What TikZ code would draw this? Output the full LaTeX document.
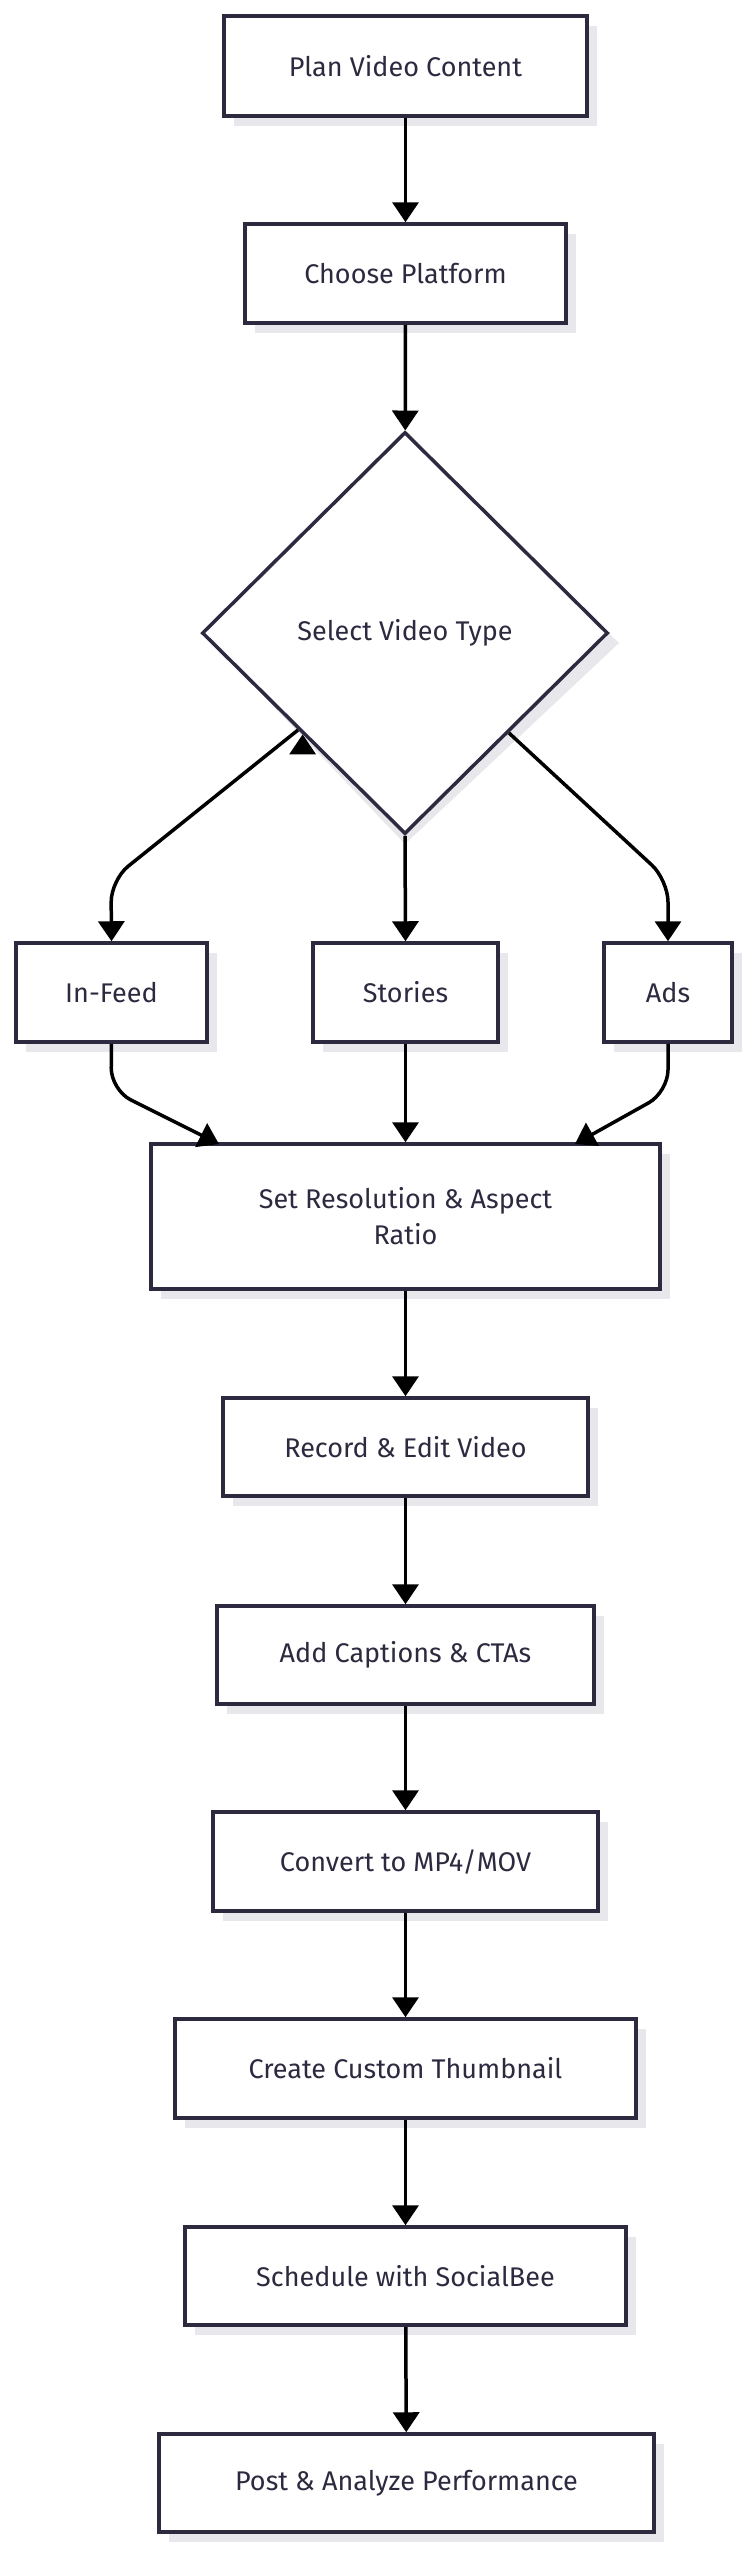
\documentclass[tikz,border=0pt]{standalone}
\usepackage{fontspec}
\setmainfont{Fira Sans}
\usetikzlibrary{shapes.geometric,arrows.meta}
\definecolor{bord}{HTML}{2D2A40}
\definecolor{txt}{HTML}{2D2A40}
\definecolor{shad}{HTML}{E8E8EC}
\begin{document}
\begin{tikzpicture}[x=1pt,y=-1pt,
  box/.style={draw=bord,line width=3.5pt,fill=white,font=\fontsize{27}{36}\selectfont,text=txt,align=center,inner sep=0pt},
  arr/.style={line width=3.5pt,black,-{Triangle[length=20pt,width=26pt]},rounded corners=22pt}]
\useasboundingbox[fill=white] (0,0) rectangle (749,2560);
\newcommand{\bx}[6]{%
  \fill[shad] (#2+10,#3+10) rectangle (#4+10,#5+10);
  \node[box,minimum width=#4-#2,minimum height=#5-#3] (#1) at ({(#2+#4)/2},{(#3+#5)/2}) {#6};}
\bx{plan}{224}{16}{587}{116}{Plan Video Content}
\bx{choose}{245}{224}{566}{323}{Choose Platform}
\fill[shad] (405,442) -- (619,643) -- (405,844) -- (213,643) -- cycle;
\node[box,diamond,minimum width=406,minimum height=402,aspect=1.01] (sel) at (405,633) {Select Video Type};
\bx{infeed}{16}{943}{207}{1042}{In-Feed}
\bx{stories}{313}{943}{498}{1042}{Stories}
\bx{ads}{604}{943}{732}{1042}{Ads}
\bx{res}{151}{1144}{660}{1289}{Set Resolution \& Aspect\\Ratio}
\bx{rec}{223}{1398}{588}{1496}{Record \& Edit Video}
\bx{cap}{217}{1606}{594}{1704}{Add Captions \& CTAs}
\bx{conv}{213}{1812}{598}{1911}{Convert to MP4/MOV}
\bx{thumb}{175}{2019}{636}{2118}{Create Custom Thumbnail}
\bx{sched}{185}{2227}{626}{2325}{Schedule with SocialBee}
\bx{post}{159}{2434}{654}{2532}{Post \& Analyze Performance}
\draw[arr] (plan) -- (choose);
\draw[arr] (choose) -- (sel);
\draw[arr] (sel.south west) ++(0,0) coordinate (dummy);
\coordinate (l1) at (298,730);
\coordinate (r1) at (509,733);
\draw[arr] (l1) -- (111,880) -- (infeed.north);
\draw[arr] (sel.south) -- (stories.north);
\draw[arr] (r1) -- (668,880) -- (ads.north);
\draw[arr] (infeed.south) -- (111,1090) -- (219,1144);
\coordinate (rt) at (575,1144);
\draw[arr] (ads.south) -- (668,1092) -- (rt);
\draw[arr] (stories.south) -- (stories.south |- res.north);
\draw[arr] (res) -- (rec);
\draw[arr] (rec) -- (cap);
\draw[arr] (cap) -- (conv);
\draw[arr] (conv) -- (thumb);
\draw[arr] (thumb) -- (sched);
\draw[arr] (sched) -- (post);
\end{tikzpicture}
\end{document}
